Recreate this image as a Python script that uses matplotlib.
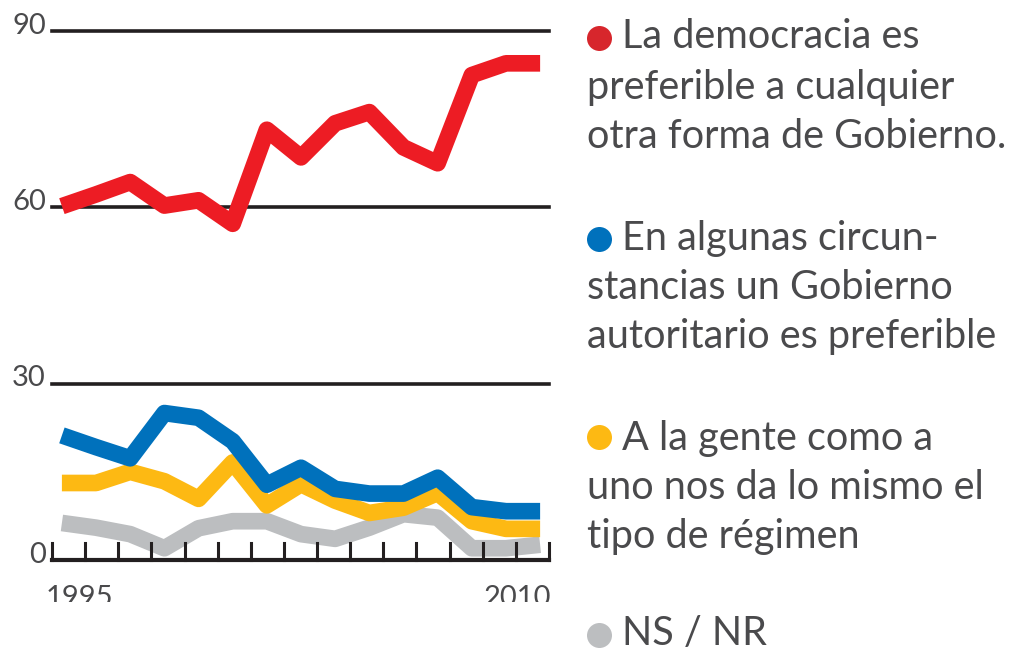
import matplotlib
matplotlib.use("Agg")
import numpy as np
import matplotlib.pyplot as plt
from matplotlib.lines import Line2D
from matplotlib.patches import Rectangle

# Latinobarometro surveys (no 1999)
years = [1995, 1996, 1997, 1998, 2000, 2001, 2002, 2003, 2004, 2005,
         2006, 2007, 2008, 2009, 2010]
democracia = [60.2, 62.2, 64.3, 60.3, 61.2, 57.2, 73.2, 68.5, 74.3, 76.2, 70.2, 67.5, 82.5, 84.5, 84.5]
autoritario = [21.2, 19.2, 17.3, 25.0, 24.2, 20.2, 12.8, 15.7, 12.1, 11.3, 11.3, 14.0, 9.0, 8.3, 8.3]
da_igual = [13.1, 13.1, 15.0, 13.4, 10.4, 16.6, 9.3, 12.9, 10.1, 8.0, 8.9, 11.4, 6.6, 5.3, 5.3]
ns_nr = [6.3, 5.5, 4.4, 2.0, 5.4, 6.6, 6.6, 4.4, 3.6, 5.5, 7.8, 7.2, 2.0, 2.0, 2.6]

y_ticks = [0, 30, 60, 90]
x_labels = ["1995", "2010"]

legend_items = [
    ("#d7262c", ["La democracia es", "preferible a cualquier", "otra forma de Gobierno."]),
    ("#0071bc", ["En algunas circun-", "stancias un Gobierno", "autoritario es preferible"]),
    ("#fdb913", ["A la gente como a", "uno nos da lo mismo el", "tipo de régimen"]),
    ("#bcbec0", ["NS / NR"]),
]

W, H = 1009, 650
fig = plt.figure(figsize=(W / 100, H / 100), dpi=100)
ax = fig.add_axes([52 / W, (H - 560) / H, 497 / W, 529 / H])

txt_col = "#4a4a4c"
dark = "#231f20"
font = "Lato"

x = np.arange(len(years))
lw = 12
ax.plot(x, ns_nr, color="#bcbec0", lw=lw, solid_joinstyle="round", solid_capstyle="butt", zorder=3, clip_on=False)
ax.plot(x, da_igual, color="#fdb913", lw=lw, solid_joinstyle="round", solid_capstyle="butt", zorder=4, clip_on=False)
ax.plot(x, autoritario, color="#0071bc", lw=lw, solid_joinstyle="round", solid_capstyle="butt", zorder=5, clip_on=False)
ax.plot(x, democracia, color="#ed1c24", lw=lw, solid_joinstyle="round", solid_capstyle="butt", zorder=6, clip_on=False)

# first and last survey sit a bit inside the axis ends
x0, x1 = -0.29, len(years) - 1 + 0.26
ax.set_xlim(x0, x1)
ax.set_ylim(0, 90)
for s in ax.spines.values():
    s.set_visible(False)
ax.set_xticks([])
ax.set_yticks([])

# gridlines
for v in y_ticks[1:]:
    ax.axhline(v, color=dark, lw=2.6, zorder=1, clip_on=False)
# baseline with year ticks
ax.axhline(0, color=dark, lw=3, zorder=7, clip_on=False)
for b in np.linspace(x0, x1, len(years) + 1):
    ax.plot([b, b], [0, 2.9], color=dark, lw=2.2, zorder=7,
            solid_capstyle="projecting", clip_on=False)

for v in y_ticks:
    ax.text(x0 - 0.18, v + 0.9, str(v), ha="right", va="center", fontsize=21,
            color=txt_col, family=font)

ax.text(x0 - 0.2, -4.3, x_labels[0], ha="left", va="top", fontsize=21,
        color=txt_col, family=font, clip_on=False)
ax.text(x1 + 0.05, -4.3, x_labels[1], ha="right", va="top", fontsize=21,
        color=txt_col, family=font, clip_on=False)
# the year labels are cut off in the original
fig.add_artist(Rectangle((0, 0), 570 / W, (H - 602) / H, transform=fig.transFigure,
                         facecolor="white", edgecolor="none", zorder=20))

# legend
dot_y = [38, 239, 437, 635]
baselines = [[48, 99, 148], [250, 299, 348], [450, 499, 548], [645]]
for (col, lines), dy, bls in zip(legend_items, dot_y, baselines):
    fig.add_artist(Line2D([599 / W], [1 - dy / H], marker="o", markersize=18,
                          color=col, markeredgewidth=0, transform=fig.transFigure))
    for i, (ln, bl) in enumerate(zip(lines, bls)):
        xx = 622 if i == 0 else 587
        fig.text(xx / W, 1 - bl / H, ln, ha="left", va="baseline", fontsize=28.5,
                 color=txt_col, family=font)

fig.savefig("out.png", dpi=100)
